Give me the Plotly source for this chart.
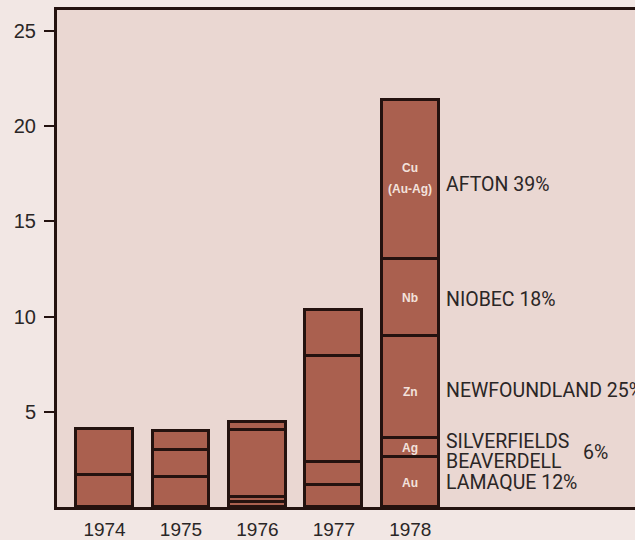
import plotly.graph_objects as go

# ---- data ----
years = ["1974", "1975", "1976", "1977", "1978"]
seg1 = [1.7, 1.6, 0.25, 1.15, 2.6]
seg2 = [2.4, 1.4, 0.25, 1.2, 1.0]
seg3 = [None, 1.0, 3.55, 5.6, 5.4]
seg4 = [None, None, 0.4, 2.4, 4.0]
seg5 = [None, None, None, None, 8.4]
metals_1978 = ["Au", "Ag", "Zn", "Nb", "Cu"]
metal_note = "(Au-Ag)"
mines_1978 = ["LAMAQUE 12%", "SILVERFIELDS", "NEWFOUNDLAND 25%", "NIOBEC 18%", "AFTON 39%"]
extra_mine = "BEAVERDELL"
extra_pct = "6%"
ytick_vals = [5, 10, 15, 20, 25]

BAR = "#aa604f"
EDGE = "#24120f"
TXT = "#2a2626"
INNER = "#f3e2dc"

fig = go.Figure()
for seg in [seg1, seg2, seg3, seg4, seg5]:
    fig.add_trace(go.Bar(
        x=years, y=seg, width=0.745,
        marker=dict(color=BAR, line=dict(color=EDGE, width=2.6)),
        showlegend=False, hoverinfo="skip",
    ))

# 1978 segment midpoints from the data
vals78 = [s[-1] for s in [seg1, seg2, seg3, seg4, seg5]]
mids = []
base = 0
for v in vals78:
    mids.append(base + v / 2)
    base += v
xi = years.index("1978")

inner_font = dict(family="Liberation Sans, Arial", size=12, color=INNER, weight="bold")
ann = []
metal_shift = [-1, 0, -5, 0, 11]
for m, y, sh in zip(metals_1978, mids, metal_shift):
    ann.append(dict(x=xi, y=y, text=m, showarrow=False, xref="x", yref="y",
                    yshift=sh, font=inner_font))
ann.append(dict(x=xi, y=mids[4], text=metal_note, showarrow=False, xref="x", yref="y",
                yshift=-10, font=inner_font))

label_font = dict(family="Roboto, Liberation Sans", size=19.5, color=TXT)
right_specs = [
    (mines_1978[0], mids[0], 0),
    (mines_1978[2], mids[2], -3),
    (mines_1978[3], mids[3], -2),
    (mines_1978[4], mids[4], -5),
]
for t, y, sh in right_specs:
    ann.append(dict(x=xi, y=y, text=t, showarrow=False, xanchor="left", xshift=34,
                    yshift=sh, font=label_font, xref="x", yref="y"))
ann.append(dict(x=xi, y=mids[1], text=mines_1978[1], showarrow=False, xanchor="left",
                xshift=34, yshift=6, font=label_font, xref="x", yref="y"))
ann.append(dict(x=xi, y=mids[1], text=extra_mine, showarrow=False, xanchor="left",
                xshift=34, yshift=-14, font=label_font, xref="x", yref="y"))
ann.append(dict(x=xi, y=mids[1], text=extra_pct, showarrow=False, xanchor="left",
                xshift=171, yshift=-5, font=label_font, xref="x", yref="y"))

fig.update_layout(
    barmode="stack",
    bargap=0,
    width=635, height=540,
    margin=dict(l=57, r=0, t=10, b=30, pad=0),
    paper_bgcolor="#f2e7e4",
    plot_bgcolor="#ead7d2",
    annotations=ann,
    font=dict(family="Liberation Sans, Arial", color=TXT),
)
fig.update_xaxes(
    type="category", range=[-0.622, 6.94],
    showline=True, mirror=True, linecolor=EDGE, linewidth=3,
    showgrid=False, zeroline=False, ticks="",
    tickfont=dict(size=19, color=TXT), ticklabelstandoff=3,
)
fig.update_yaxes(
    range=[0, 26.1], tickvals=ytick_vals,
    showline=True, mirror=False, linecolor=EDGE, linewidth=3,
    showgrid=False, zeroline=False,
    ticks="outside", ticklen=10, tickwidth=2, tickcolor=EDGE,
    tickfont=dict(size=20, color=TXT), ticklabelstandoff=4,
)

fig.write_html(
    "out.html",
    config={"displayModeBar": False},
    post_script="document.body.style.margin='0';document.body.style.overflow='hidden';",
)
